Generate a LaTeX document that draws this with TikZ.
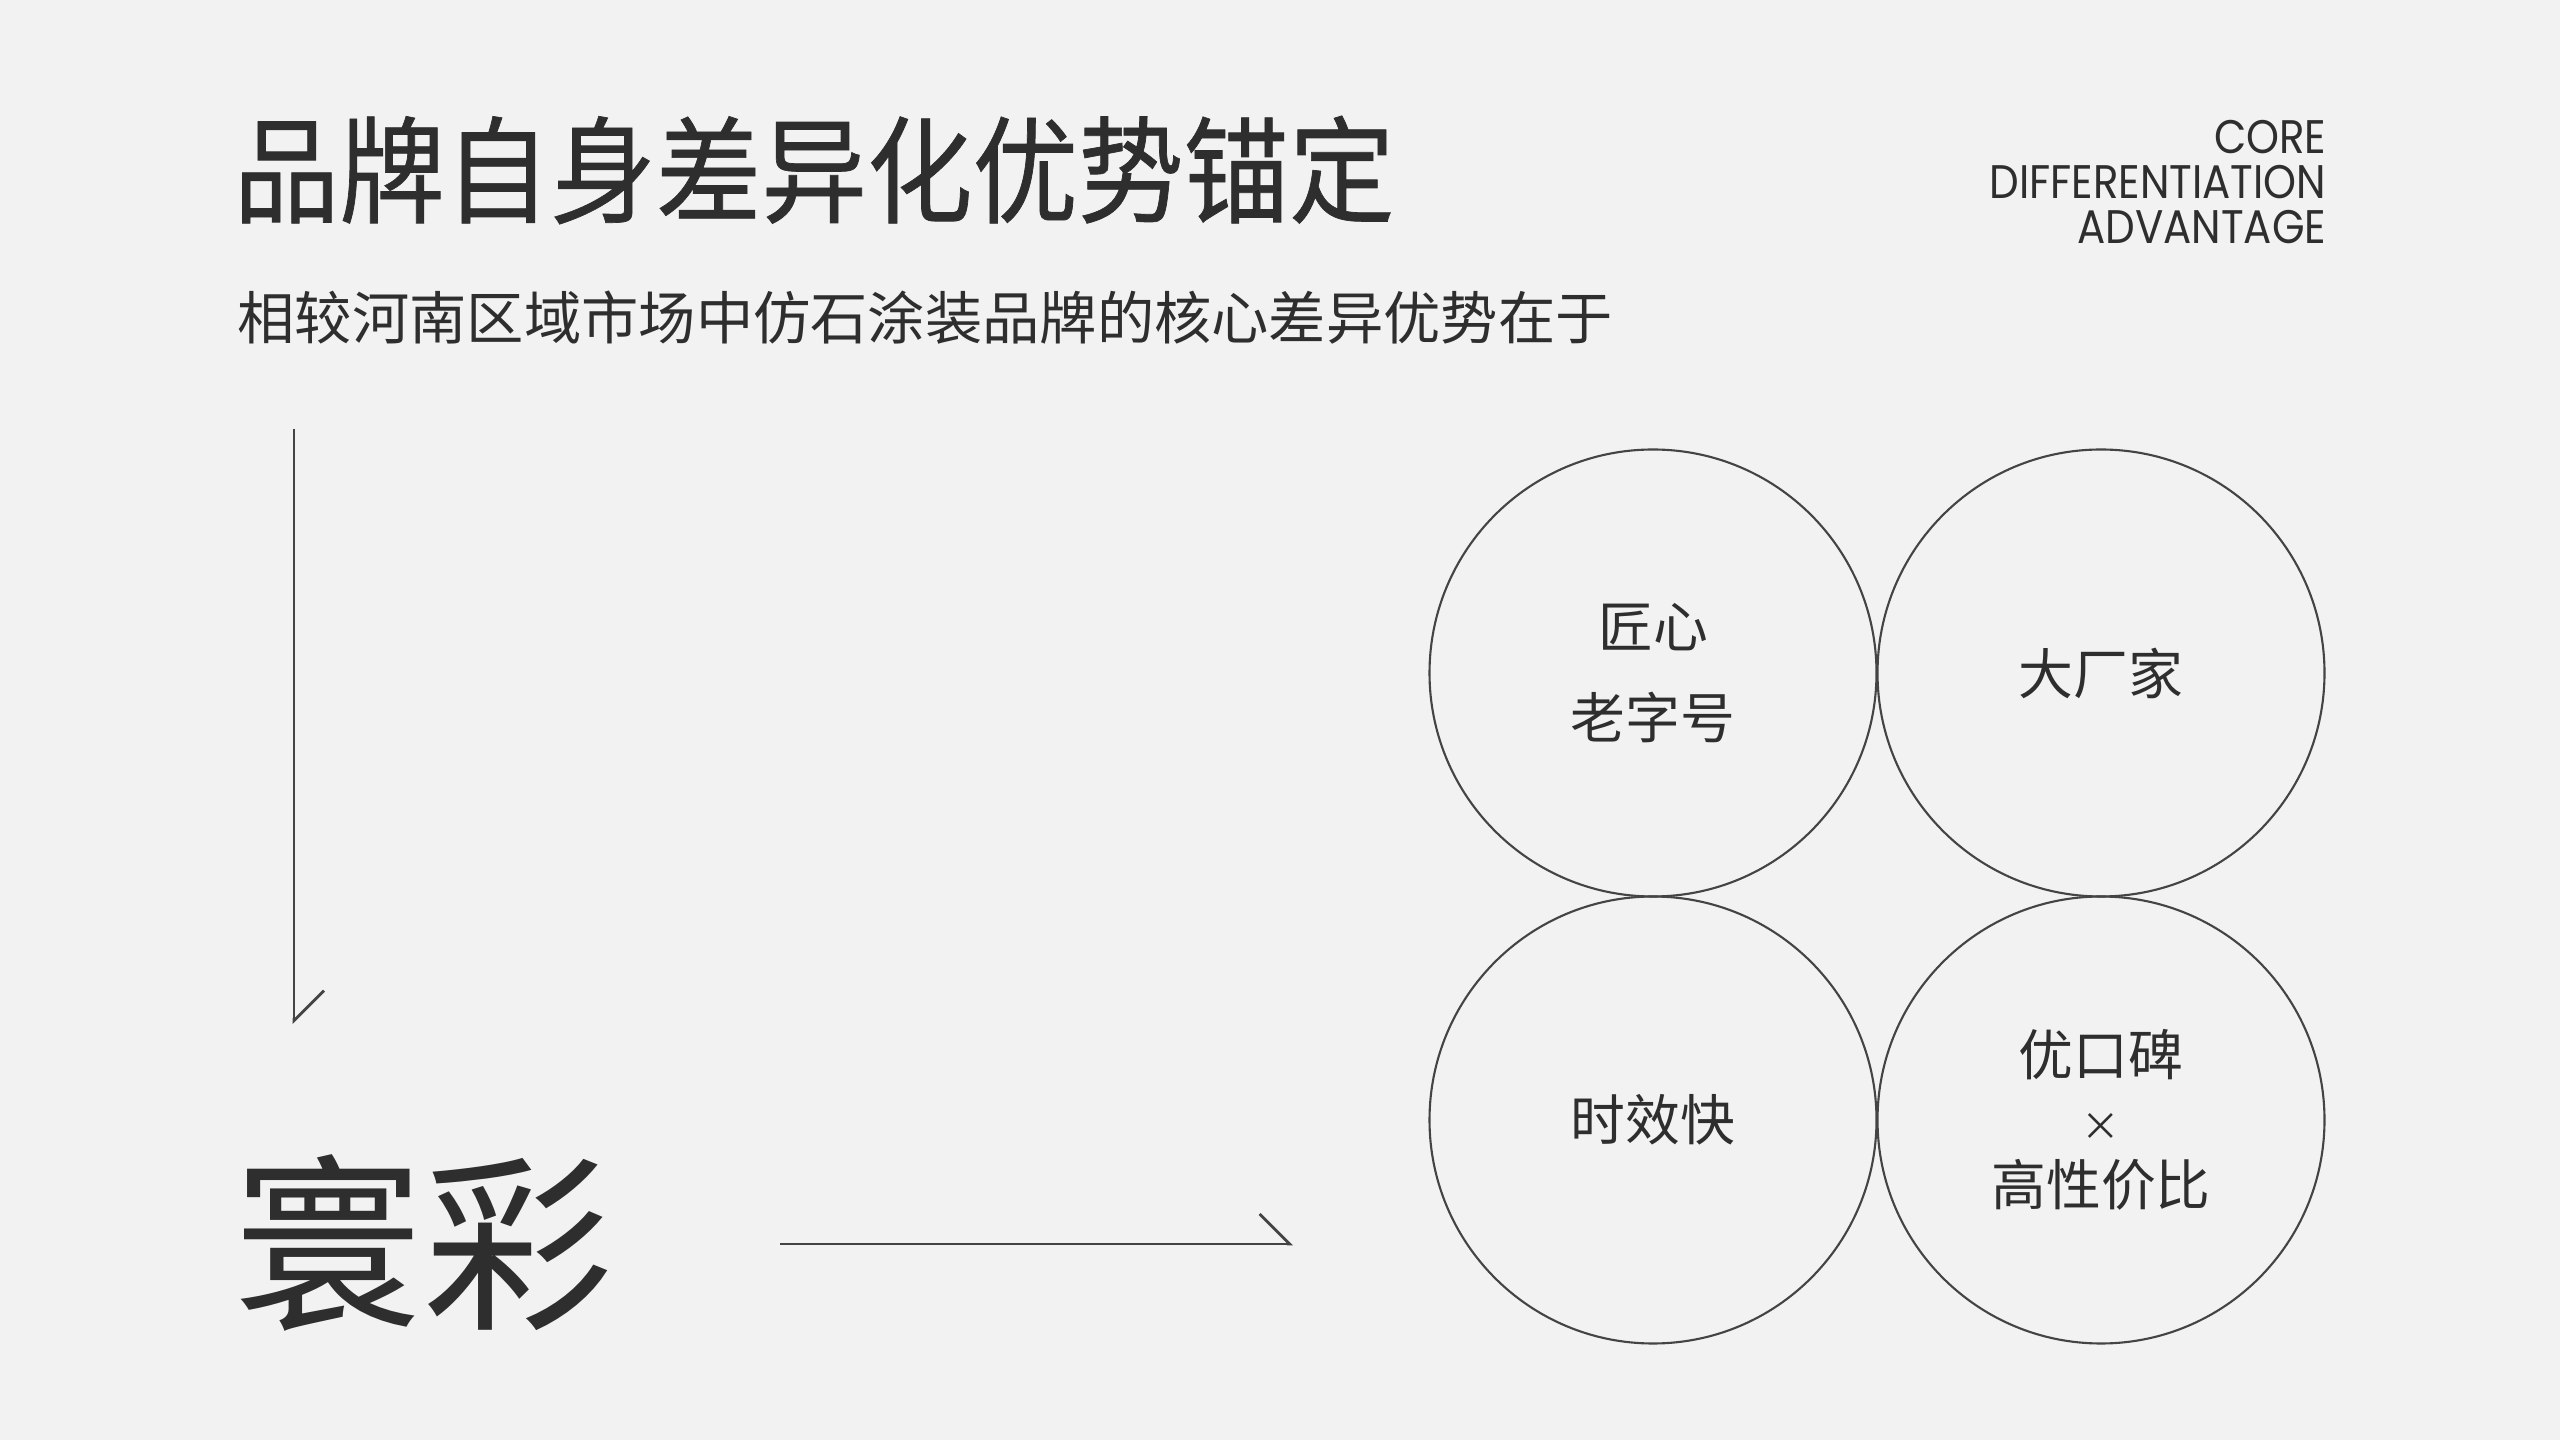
\documentclass[tikz,border=0pt]{standalone}
\usepackage{fontspec}
\usepackage{tikz}
\usetikzlibrary{arrows.meta,shapes,positioning}
\usepackage{xcolor}
\newfontfamily\cjk{Noto Sans CJK SC}
\newfontfamily\cjkbold[FakeBold=0.6,FakeStretch=0.91]{Noto Sans CJK SC}
\newfontfamily\enfont[FakeStretch=0.89]{Poppins}
\definecolor{hcbg}{RGB}{242,242,242}
\definecolor{hcink}{RGB}{46,46,46}
\definecolor{hcline}{RGB}{68,68,68}
\tikzstyle{arrow} = [line width=0.8pt, draw=hcline, -{Straight Barb[harpoon, length=0.3cm, width=0.6cm]}]
\tikzstyle{badge} = [circle, draw=hcline, line width=0.6pt, minimum size=4.47cm, inner sep=0pt, align=center, text=hcink, font=\cjk\fontsize{15.6}{25.9}\selectfont]

\begin{document}
\begin{tikzpicture}[node distance=4.47cm]
\fill[hcbg] (0,0) rectangle (25.6,14.4);
\useasboundingbox (0,0) rectangle (25.6,14.4);
% heading
\node (title) [anchor=west, inner sep=0pt, text=hcink, font=\cjkbold\fontsize{33}{33}\selectfont] at (2.33,12.7) {品牌自身差异化优势锚定};
\node (subtitle) [anchor=west, inner sep=0pt, text=hcink, font=\cjk\fontsize{16.3}{16.3}\selectfont] at (2.37,11.22) {相较河南区域市场中仿石涂装品牌的核心差异优势在于};
\node (tag) [anchor=east, inner sep=0pt, align=right, text=hcink, font=\enfont\fontsize{13.4}{12.8}\selectfont] at (23.27,12.58) {CORE\\DIFFERENTIATION\\ADVANTAGE};

% brand and arrows
\node (brand) [anchor=west, inner sep=0pt, text=hcink, font=\cjk\fontsize{54}{54}\selectfont] at (2.33,1.97) {寰彩};
\coordinate (vtop) at (2.94,10.11);
\coordinate (vend) at (2.94,4.16);
\draw[arrow] (vtop) -- (vend);
\coordinate (hstart) at (7.80,1.96);
\coordinate (hend) at (12.93,1.96);
\draw[arrow] (hstart) -- (hend);

% advantages
\node (jiang) [badge] at (16.53,7.67) {匠心\\老字号};
\node (dachang) [badge, right of=jiang, node distance=4.48cm] {大厂家};
\node (shixiao) [badge, below of=jiang] {时效快};
\node (koubei) [badge, right of=shixiao, node distance=4.48cm, font=\cjk\fontsize{15.6}{18.5}\selectfont] {优口碑\\{\fontsize{11}{18.5}\selectfont ×}\\高性价比};
\end{tikzpicture}
\end{document}
